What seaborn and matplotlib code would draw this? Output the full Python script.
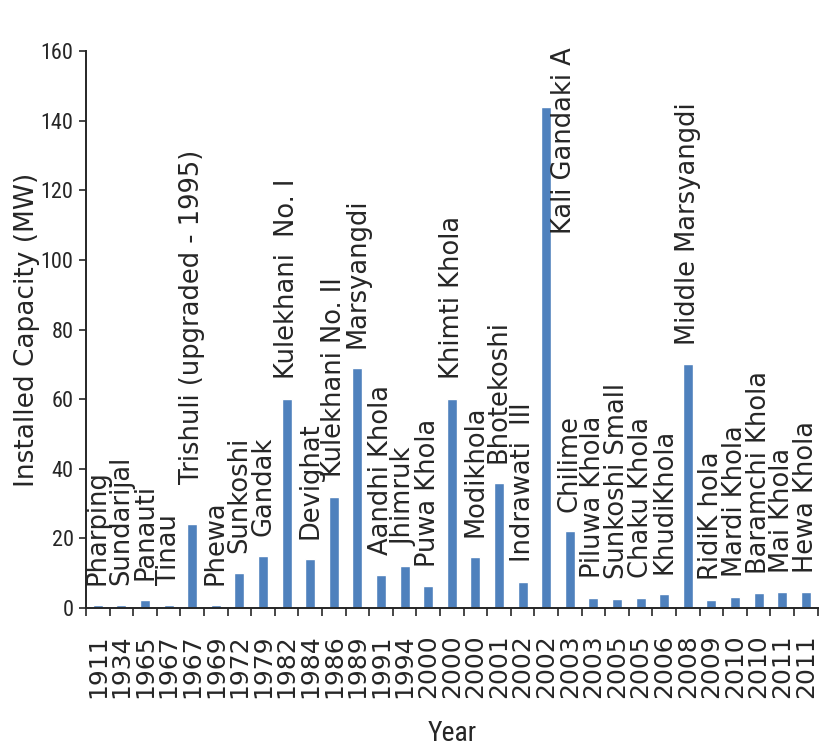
import matplotlib
matplotlib.use("Agg")
import matplotlib.pyplot as plt
import matplotlib.font_manager as fm
import seaborn as sns
import pandas as pd
from matplotlib.ticker import FixedLocator

# Hydropower plants in order of commissioning
plants = [
    "Pharping", "Sundarijal", "Panauti", "Tinau", "Trishuli (upgraded - 1995)",
    "Phewa", "Sunkoshi", "Gandak", "Kulekhani  No. I", "Devighat",
    "Kulekhani No. II", "Marsyangdi", "Aandhi Khola", "Jhimruk", "Puwa Khola",
    "Khimti Khola", "Modikhola", "Bhotekoshi", "Indrawati  III", "Kali Gandaki A",
    "Chilime", "Piluwa Khola", "Sunkoshi Small", "Chaku Khola", "KhudiKhola",
    "Middle Marsyangdi", "RidiK hola", "Mardi Khola", "Baramchi Khola", "Mai Khola",
    "Hewa Khola",
]
years = [
    "1911", "1934", "1965", "1967", "1967", "1969", "1972", "1979", "1982", "1984",
    "1986", "1989", "1991", "1994", "2000", "2000", "2000", "2001", "2002", "2002",
    "2003", "2003", "2005", "2005", "2006", "2008", "2009", "2010", "2010", "2011",
    "2011",
]
capacity_mw = [
    1, 1, 2.4, 1, 24, 1, 10, 15, 60, 14,
    32, 69, 9.4, 12, 6.2, 60, 14.8, 36, 7.5, 144,
    22, 3, 2.5, 3, 4, 70, 2.4, 3.1, 4.2, 4.5,
    4.5,
]
y_ticks = [0, 20, 40, 60, 80, 100, 120, 140, 160]

df = pd.DataFrame({"plant": plants, "year": years, "capacity": capacity_mw})

sns.set_style("ticks")
plt.rcParams["font.family"] = ["DejaVu Sans"]


def narrow_font(size):
    """A condensed sans face if one is installed, else regular DejaVu Sans."""
    wanted = ("Liberation Sans Narrow", "Arial Narrow", "Roboto Condensed",
              "Open Sans Condensed", "DejaVu Sans Condensed")
    for f in fm.fontManager.ttflist:
        if f.name in wanted and f.style == "normal" and f.weight in (400, "normal", "regular"):
            return fm.FontProperties(fname=f.fname, size=size)
    for f in fm.fontManager.ttflist:
        if f.name == "DejaVu Sans" and "condensed" in str(f.stretch) \
                and f.style == "normal" and f.weight in (400, "normal", "regular"):
            return fm.FontProperties(fname=f.fname, size=size)
    return fm.FontProperties(family="DejaVu Sans", size=size * 0.85)


BAR = "#4F81BD"
INK = "#262626"

fig = plt.figure(figsize=(8.21, 7.54), dpi=100)
ax = fig.add_axes([0.1048, 0.1936, 0.891, 0.7387])

sns.barplot(data=df, x="plant", y="capacity", order=plants, color=BAR,
            saturation=1, width=0.42, ax=ax)

ax.set_xlim(-0.5, len(plants) - 0.5)
ax.set_ylim(0, 160)
sns.despine(ax=ax)
for s in ("left", "bottom"):
    ax.spines[s].set_color(INK)
    ax.spines[s].set_linewidth(1.4)

# y axis
ax.set_yticks(y_ticks)
ax.set_yticklabels([str(t) for t in y_ticks], fontproperties=narrow_font(16), color=INK)
ax.tick_params(axis="y", direction="out", length=5, width=1.2, color=INK, pad=4)

# x axis: year labels under bars, tick marks between categories
ax.set_xticks(range(len(plants)))
ax.set_xticklabels(years, rotation=90, fontsize=18, color=INK, va="top")
ax.tick_params(axis="x", which="major", length=0, pad=19)
ax.xaxis.set_minor_locator(FixedLocator([i + 0.5 for i in range(-1, len(plants))]))
ax.tick_params(axis="x", which="minor", direction="out", length=6, width=1.2, color=INK)

ax.set_xlabel("Year", fontproperties=narrow_font(20), color=INK, labelpad=16)
ax.set_ylabel("Installed Capacity (MW)", fontsize=19, color=INK)
ax.yaxis.set_label_coords(-0.063, 0.5)

# plant names above each bar; one label sits higher, the tallest bar's beside it
gap = 5.7
raise_by = {"Trishuli (upgraded - 1995)": 6}
for i, (name, v) in enumerate(zip(plants, capacity_mw)):
    if v > 140:
        ax.text(i + 0.75, 107.5, name, rotation=90, ha="center", va="bottom",
                fontsize=18.5, color=INK, clip_on=False)
    else:
        ax.text(i, v + gap + raise_by.get(name, 0), name, rotation=90,
                ha="center", va="bottom", fontsize=18.5, color=INK, clip_on=False)

fig.savefig("out.png", dpi=100)
